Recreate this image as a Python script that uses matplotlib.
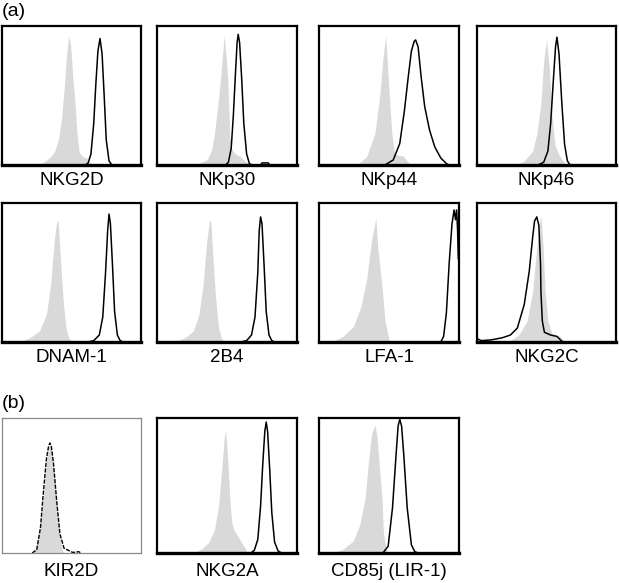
import matplotlib.pyplot as plt

plt.rcParams['font.family'] = ['Liberation Sans', 'DejaVu Sans']

# histogram outlines, x = channel position (% of axis), y = count (% of axis height)
# gray = isotype control, black = antibody staining
nkg2d_iso_x = [25, 30, 35, 38, 41, 43, 45, 46.5, 48, 49.5, 51, 52.5, 54, 55.5, 58, 61, 63, 65]
nkg2d_iso_y = [0, 2, 6, 10, 20, 35, 58, 80, 93, 85, 62, 45, 22, 9, 6, 5, 2, 0]
nkg2d_ab_x = [60, 62, 64, 66, 67.5, 69, 70.5, 72, 73.5, 75, 77, 79]
nkg2d_ab_y = [0, 1.5, 8, 30, 58, 82, 91, 80, 50, 18, 3, 0]

nkp30_iso_x = [26, 32, 36, 39, 41, 43, 45, 46.5, 48, 49.2, 50.5, 52, 53.5, 56, 59.5, 63, 67]
nkp30_iso_y = [0, 2, 4, 11, 22, 39, 58, 76, 93, 80, 63, 20, 11, 8, 6, 3, 0]
nkp30_ab_x = [49, 51, 53, 54.5, 56, 57.2, 58, 59, 60.5, 62, 64, 66, 68, 74, 75, 79.5, 80.5]
nkp30_ab_y = [0, 2, 12, 35, 65, 88, 94, 88, 62, 30, 8, 1, 0, 0, 1.5, 1.5, 0]

nkp44_iso_x = [27, 34, 40, 43.5, 46, 47.7, 49.4, 52, 54, 57, 60, 63.7, 66]
nkp44_iso_y = [0, 6, 23, 51, 80, 93, 63, 23, 8, 7, 6.5, 2, 0]
nkp44_ab_x = [47, 53, 57.7, 61, 63.7, 66, 68, 69, 70.8, 73, 75.5, 79, 82.7, 87, 91, 93]
nkp44_ab_y = [0, 3.6, 15.5, 39, 63, 82, 89, 90, 85, 63, 42, 25, 13, 5, 1, 0]

nkp46_iso_x = [28, 34, 40, 43, 46, 48, 50, 52, 54, 56, 59, 62, 64]
nkp46_iso_y = [0, 3, 10, 22, 45, 75, 90, 70, 35, 15, 7, 3, 0]
nkp46_ab_x = [44, 48, 51, 53, 55, 56.5, 57.5, 59, 61, 63, 65, 67]
nkp46_ab_y = [0, 2, 10, 30, 62, 85, 92, 80, 45, 15, 3, 0]

dnam1_iso_x = [12, 20, 27, 32, 35, 37.5, 39.5, 40.5, 42, 44, 46, 48, 50]
dnam1_iso_y = [0, 3, 8, 20, 42, 72, 88, 86, 60, 30, 10, 3, 0]
dnam1_ab_x = [62, 66, 70, 72.5, 74.5, 76, 77, 78, 79.5, 81, 83, 85, 87]
dnam1_ab_y = [0, 1, 5, 18, 50, 80, 92, 85, 55, 22, 5, 1, 0]

b2b4_iso_x = [12, 20, 26, 30, 33, 35.5, 37.5, 38.5, 40, 42, 44, 46, 48]
b2b4_iso_y = [0, 3, 8, 20, 42, 72, 88, 86, 60, 30, 10, 3, 0]
b2b4_ab_x = [60, 64, 67.5, 70, 72, 73, 74, 75, 76.5, 78, 80, 82, 84]
b2b4_ab_y = [0, 1, 5, 18, 50, 80, 90, 85, 55, 22, 5, 1, 0]

lfa1_iso_x = [9, 17, 24.5, 30, 34, 37.5, 40.6, 42, 45, 47, 49, 50.5]
lfa1_iso_y = [0, 4, 11, 25.5, 45, 73, 89, 68, 40, 16, 6, 0]
lfa1_ab_x = [87, 89, 91, 93, 95, 96.5, 97.5, 98.3, 99, 99.5]
lfa1_ab_y = [0, 4, 21, 57, 85, 95, 88, 95, 80, 60]

nkg2c_iso_x = [20, 24, 30, 36, 40, 43, 45, 46, 47.6, 49, 51, 54, 60, 62, 64]
nkg2c_iso_y = [0, 1, 5, 15, 36, 68, 85, 91, 68, 36, 15, 6, 4, 1, 0]
nkg2c_ab_x = [0, 3, 10, 18, 24, 29, 34, 37.6, 40, 41.4, 43, 44.5, 45.7, 46, 47, 48.5, 53, 57.6, 61, 63]
nkg2c_ab_y = [2.4, 1, 1.5, 3, 5, 10, 27, 51, 75, 87, 90, 84, 56, 36, 15, 7, 5, 4, 0.5, 0]

kir2d_iso_x = [23, 27, 29.6, 32, 33.5, 34.5, 35.5, 37, 39.3, 41.5, 44]
kir2d_iso_y = [0, 15, 40, 68, 78, 80, 77, 65, 37, 12, 0]
kir2d_ab_x = [21.7, 25, 27.7, 29.6, 32, 33.5, 34.5, 35.5, 37, 39.3, 41.7, 44.6, 50.6, 53, 55, 57]
kir2d_ab_y = [0, 2.4, 19, 43, 70, 79, 81.5, 79, 67, 39, 14, 3.6, 0.5, 0.5, 1, 0]

nkg2a_iso_x = [26, 32, 37, 41, 44, 46.5, 48, 49, 50.5, 52, 53.5, 55, 58, 62, 65]
nkg2a_iso_y = [0, 3, 8, 17, 35, 65, 85, 91, 70, 40, 22, 17, 12, 5, 0]
nkg2a_ab_x = [67, 69.5, 72, 74, 75.5, 77, 78, 79, 80.5, 82, 84, 86.5, 89]
nkg2a_ab_y = [0, 2, 10, 35, 65, 90, 97, 90, 62, 30, 8, 1.5, 0]

cd85j_iso_x = [8, 17, 24.5, 29, 33, 35, 37.5, 40, 41.6, 43.5, 45, 46, 47.7, 49]
cd85j_iso_y = [0, 2.6, 9, 20.6, 41, 64, 88, 95, 85, 59, 41, 15, 4, 0]
cd85j_ab_x = [46, 49.4, 52.5, 55, 56.5, 57.7, 59, 60.6, 63, 66, 68.4, 70.8]
cd85j_ab_y = [0.5, 5, 33.5, 72, 94, 99, 94, 72, 33.5, 6, 1, 0]

# (label, isotype, stained, row, col)
panels = [
    ('NKG2D', (nkg2d_iso_x, nkg2d_iso_y), (nkg2d_ab_x, nkg2d_ab_y), 0, 0),
    ('NKp30', (nkp30_iso_x, nkp30_iso_y), (nkp30_ab_x, nkp30_ab_y), 0, 1),
    ('NKp44', (nkp44_iso_x, nkp44_iso_y), (nkp44_ab_x, nkp44_ab_y), 0, 2),
    ('NKp46', (nkp46_iso_x, nkp46_iso_y), (nkp46_ab_x, nkp46_ab_y), 0, 3),
    ('DNAM-1', (dnam1_iso_x, dnam1_iso_y), (dnam1_ab_x, dnam1_ab_y), 1, 0),
    ('2B4', (b2b4_iso_x, b2b4_iso_y), (b2b4_ab_x, b2b4_ab_y), 1, 1),
    ('LFA-1', (lfa1_iso_x, lfa1_iso_y), (lfa1_ab_x, lfa1_ab_y), 1, 2),
    ('NKG2C', (nkg2c_iso_x, nkg2c_iso_y), (nkg2c_ab_x, nkg2c_ab_y), 1, 3),
    ('KIR2D', (kir2d_iso_x, kir2d_iso_y), (kir2d_ab_x, kir2d_ab_y), 2, 0),
    ('NKG2A', (nkg2a_iso_x, nkg2a_iso_y), (nkg2a_ab_x, nkg2a_ab_y), 2, 1),
    ('CD85j (LIR-1)', (cd85j_iso_x, cd85j_iso_y), (cd85j_ab_x, cd85j_ab_y), 2, 2),
]

W, H = 619, 583
col_x = [(2, 141), (157, 297), (319, 459), (477, 616)]   # pixel left/right
row_y = [(26, 165), (203, 342), (418, 553)]             # pixel top/bottom
label_y = [180, 357, 571]

fig = plt.figure(figsize=(W / 100, H / 100), dpi=100)

for name, iso, ab, r, c in panels:
    x0, x1 = col_x[c]
    t, b = row_y[r]
    ax = fig.add_axes([x0 / W, 1 - b / H, (x1 - x0) / W, (b - t) / H])
    ax.fill_between(iso[0], iso[1], 0, color='#d9d9d9', lw=0)
    if name == 'KIR2D':
        ax.plot(ab[0], ab[1], color='black', lw=1.0, ls=(0, (3, 1)))
    else:
        ax.plot(ab[0], ab[1], color='black', lw=1.1)
    ax.set_xlim(0, 100)
    ax.set_ylim(0, 100)
    ax.set_xticks([])
    ax.set_yticks([])
    if name == 'KIR2D':
        for s in ax.spines.values():
            s.set_color('#8a8a8a')
            s.set_linewidth(0.9)
    else:
        for s in ax.spines.values():
            s.set_linewidth(1.6)
        ax.spines['bottom'].set_linewidth(2.4)
    fig.text((x0 + x1) / 2 / W, 1 - label_y[r] / H, name,
             ha='center', va='center', fontsize=13.5)

fig.text(2 / W, 1 - 11 / H, '(a)', ha='left', va='center', fontsize=14)
fig.text(2 / W, 1 - 403 / H, '(b)', ha='left', va='center', fontsize=14)

plt.savefig('out.png', dpi=100)
